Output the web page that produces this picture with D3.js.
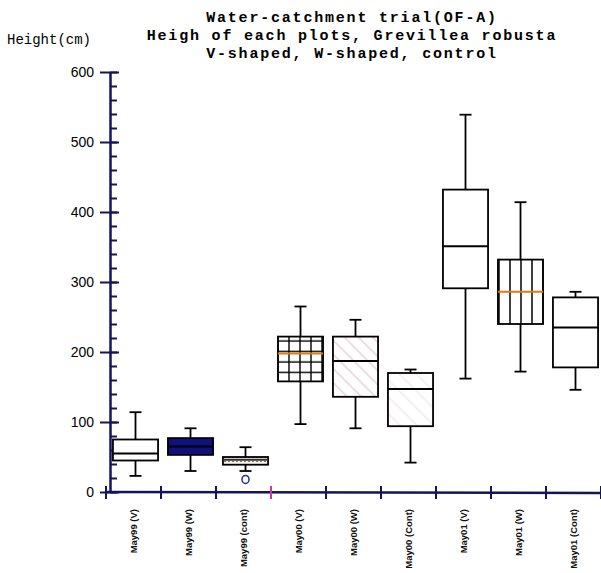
<!DOCTYPE html>
<html lang="en">
<head>
<meta charset="utf-8">
<title>Water-catchment trial</title>
<script src="https://cdn.jsdelivr.net/npm/d3@7"></script>
<style>
  body { margin: 0; background: #fff; }
  .title { font-family: "Liberation Mono", "DejaVu Sans Mono", monospace; font-weight: bold; font-size: 15px; letter-spacing: 1.8px; fill: #000; }
  .ylabel { font-family: "Liberation Mono", "DejaVu Sans Mono", monospace; font-size: 14px; fill: #000; }
  .y-axis path { stroke: #14145a; stroke-width: 2.5; }
  .y-axis line { stroke: #14145a; stroke-width: 2; }
  .y-axis text { font-family: "Liberation Sans Narrow", "Arial Narrow", "Liberation Sans", sans-serif; font-size: 14px; fill: #000; }
  .minor path { stroke: none; }
  .minor line { stroke: #14145a; stroke-width: 2; }
  .xlab { font-family: "Liberation Sans", Arial, sans-serif; font-weight: bold; font-size: 9.5px; fill: #111; }
  .box { stroke: #000; stroke-width: 1.8; }
  .whisker { stroke: #000; stroke-width: 1.8; }
</style>
</head>
<body>
<script>
var w = 601, h = 573;

var categories = ["May99 (V)", "May99 (W)", "May99 (cont)", "May00 (V)", "May00 (W)",
                  "May00 (Cont)", "May01 (V)", "May01 (W)", "May01 (Cont)"];
var whiskerLow  = [23, 30, 30, 97, 91, 42, 162, 172, 146];
var q1          = [45, 53, 39, 158, 136, 94, 291, 240, 178];
var median      = [55, 65, 46, 198, 187, 147, 351, 286, 235];
var q3          = [75, 77, 50, 222, 222, 170, 432, 332, 278];
var whiskerHigh = [114, 91, 64, 265, 246, 175, 539, 414, 286];
var outlierCats = ["May99 (cont)"];
var outlierVals = [18];
var yTicks = [0, 100, 200, 300, 400, 500, 600];
var titleLines = ["Water-catchment trial(OF-A)",
                  "Heigh of each plots, Grevillea robusta",
                  "V-shaped, W-shaped, control"];

// fill of each box, in category order
var fills = ["#fff", "#10107e", "url(#dots)", "url(#grid)", "url(#hatch)",
             "url(#hatch2)", "#fff", "url(#vstripe)", "#fff"];
var medianColor = ["#000", "#000", "#333", "#e07a10", "#000", "#000", "#000", "#e07a10", "#000"];

var y = d3.scaleLinear().domain([0, 600]).range([492, 72]);
var x = d3.scaleBand().domain(categories).range([108, 603])
  .paddingInner(0.18).paddingOuter(0.09);
var xi = d3.scaleLinear().domain([0, categories.length]).range([106, 601]);

var svg = d3.select("body").append("svg")
  .attr("width", w).attr("height", h);

// patterns
var defs = svg.append("defs");
var pg = defs.append("pattern").attr("id", "grid").attr("patternUnits", "userSpaceOnUse")
  .attr("width", 11).attr("height", 10.5);
pg.append("rect").attr("width", 11).attr("height", 10.5).attr("fill", "#fff");
pg.append("line").attr("x1", 3).attr("x2", 3).attr("y1", 0).attr("y2", 10.5).attr("stroke", "#000").attr("stroke-width", 1.4);
pg.append("line").attr("x1", 0).attr("x2", 11).attr("y1", 5).attr("y2", 5).attr("stroke", "#000").attr("stroke-width", 1.4);

var pv = defs.append("pattern").attr("id", "vstripe").attr("patternUnits", "userSpaceOnUse")
  .attr("width", 11).attr("height", 10);
pv.append("rect").attr("width", 11).attr("height", 10).attr("fill", "#fff");
pv.append("line").attr("x1", 4).attr("x2", 4).attr("y1", 0).attr("y2", 10).attr("stroke", "#000").attr("stroke-width", 1.5);

var ph = defs.append("pattern").attr("id", "hatch").attr("patternUnits", "userSpaceOnUse")
  .attr("width", 10).attr("height", 10).attr("patternTransform", "rotate(45)");
ph.append("rect").attr("width", 10).attr("height", 10).attr("fill", "#fff");
ph.append("line").attr("x1", 0).attr("x2", 10).attr("y1", 5).attr("y2", 5).attr("stroke", "#e4b8c4").attr("stroke-width", 1);

var ph2 = defs.append("pattern").attr("id", "hatch2").attr("patternUnits", "userSpaceOnUse")
  .attr("width", 12).attr("height", 12).attr("patternTransform", "rotate(45)");
ph2.append("rect").attr("width", 12).attr("height", 12).attr("fill", "#fff");
ph2.append("line").attr("x1", 0).attr("x2", 12).attr("y1", 6).attr("y2", 6).attr("stroke", "#eedde2").attr("stroke-width", 1);

var pd = defs.append("pattern").attr("id", "dots").attr("patternUnits", "userSpaceOnUse")
  .attr("width", 4).attr("height", 4);
pd.append("rect").attr("width", 4).attr("height", 4).attr("fill", "#f6f3ea");
pd.append("rect").attr("x", 0).attr("y", 1).attr("width", 2).attr("height", 1).attr("fill", "#777");

// titles
svg.selectAll(".title").data(titleLines).enter().append("text")
  .attr("class", "title")
  .attr("x", 352).attr("y", function (d, i) { return 22 + i * 18; })
  .attr("text-anchor", "middle")
  .text(function (d) { return d; });

svg.append("text").attr("class", "ylabel")
  .attr("x", 7).attr("y", 44).text("Height(cm)");

// y axis, major ticks crossing the line
svg.append("g")
  .attr("class", "y-axis")
  .attr("transform", "translate(110,0)")
  .call(d3.axisLeft(y).tickValues(yTicks).tickSize(10).tickSizeOuter(0).tickPadding(6));

svg.append("g")
  .attr("class", "minor")
  .attr("transform", "translate(110,0)")
  .call(d3.axisRight(y).tickValues(d3.range(0, 601, 20)).tickSize(7).tickFormat(""));

svg.append("g")
  .attr("class", "minor")
  .attr("transform", "translate(110,0)")
  .call(d3.axisRight(y).tickValues(yTicks).tickSize(9).tickFormat(""));

// x axis
svg.append("line")
  .attr("x1", xi(0)).attr("x2", xi(categories.length))
  .attr("y1", y(0)).attr("y2", y(0) + 1)
  .attr("stroke", "#14145a").attr("stroke-width", 2.5);

svg.selectAll(".xtick").data(d3.range(categories.length + 1)).enter().append("line")
  .attr("class", "xtick")
  .attr("x1", function (d) { return xi(d); }).attr("x2", function (d) { return xi(d); })
  .attr("y1", y(0) - 6).attr("y2", y(0) + 7)
  .attr("stroke", function (d) { return d === 3 ? "#c03ab0" : "#14145a"; })
  .attr("stroke-width", 2);

svg.selectAll(".xlab").data(categories).enter().append("text")
  .attr("class", "xlab")
  .attr("text-anchor", "end")
  .attr("transform", function (d) {
    return "translate(" + (x(d) + x.bandwidth() / 2 + 1) + ",509) rotate(-90)";
  })
  .attr("fill", function (d, i) { return i === 3 ? "#b0303a" : "#111"; })
  .text(function (d) { return d; });

// boxes
var bw = x.bandwidth();
var g = svg.selectAll(".bp").data(categories).enter().append("g").attr("class", "bp");

g.append("line").attr("class", "whisker")
  .attr("x1", function (d) { return x(d) + bw / 2; }).attr("x2", function (d) { return x(d) + bw / 2; })
  .attr("y1", function (d, i) { return y(whiskerHigh[i]); })
  .attr("y2", function (d, i) { return y(whiskerLow[i]); });

g.selectAll(".cap").data(function (d, i) {
    return [{c: d, v: whiskerHigh[i]}, {c: d, v: whiskerLow[i]}];
  }).enter().append("line").attr("class", "whisker cap")
  .attr("x1", function (d) { return x(d.c) + bw / 2 - 6; })
  .attr("x2", function (d) { return x(d.c) + bw / 2 + 6; })
  .attr("y1", function (d) { return y(d.v); })
  .attr("y2", function (d) { return y(d.v); });

g.append("rect").attr("class", "box")
  .attr("x", function (d) { return x(d); })
  .attr("width", bw)
  .attr("y", function (d, i) { return y(q3[i]); })
  .attr("height", function (d, i) { return y(q1[i]) - y(q3[i]); })
  .attr("fill", function (d, i) { return fills[i]; });

g.append("line")
  .attr("x1", function (d) { return x(d); }).attr("x2", function (d) { return x(d) + bw; })
  .attr("y1", function (d, i) { return y(median[i]); })
  .attr("y2", function (d, i) { return y(median[i]); })
  .attr("stroke", function (d, i) { return medianColor[i]; })
  .attr("stroke-width", 2);

// outliers
svg.selectAll(".outlier").data(outlierCats).enter().append("ellipse")
  .attr("class", "outlier")
  .attr("cx", function (d) { return x(d) + bw / 2; })
  .attr("cy", function (d, i) { return y(outlierVals[i]); })
  .attr("rx", 3.5).attr("ry", 4)
  .attr("fill", "none").attr("stroke", "#2030a0").attr("stroke-width", 1.5);
</script>
</body>
</html>
